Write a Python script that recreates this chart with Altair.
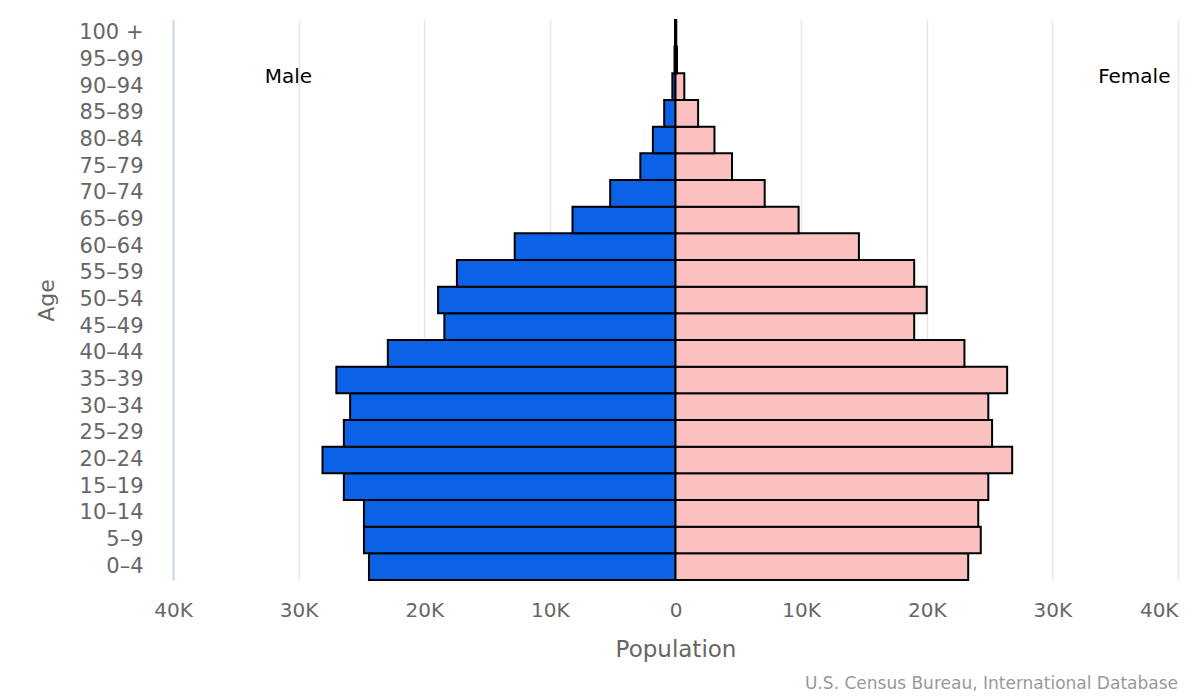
import altair as alt
import pandas as pd

ages = ["0–4", "5–9", "10–14", "15–19", "20–24", "25–29", "30–34", "35–39",
        "40–44", "45–49", "50–54", "55–59", "60–64", "65–69", "70–74",
        "75–79", "80–84", "85–89", "90–94", "95–99", "100 +"]
male = [24400, 24800, 24800, 26400, 28100, 26400, 25900, 27000,
        22900, 18400, 18900, 17400, 12800, 8200, 5200,
        2800, 1800, 900, 250, 80, 40]
female = [23300, 24300, 24100, 24900, 26800, 25200, 24900, 26400,
          23000, 19000, 20000, 19000, 14600, 9800, 7100,
          4500, 3100, 1800, 700, 120, 60]

sexes = ["Male", "Female"]
colors = ["#0b62e6", "#fbc0c0"]
ticks = [-40000, -30000, -20000, -10000, 0, 10000, 20000, 30000, 40000]

rows = []
for a, m, f in zip(ages, male, female):
    rows.append({"age": a, "sex": "Male", "pop": -m})
    rows.append({"age": a, "sex": "Female", "pop": f})
df = pd.DataFrame(rows)

FONT = "DejaVu Sans"
order = list(reversed(ages))

x_scale = alt.Scale(domain=[-40000, 40000], nice=False, zero=False)

bars = alt.Chart(df).mark_bar(stroke="black", strokeWidth=2).encode(
    x=alt.X("pop:Q", scale=x_scale,
            axis=alt.Axis(values=ticks, title="Population", grid=True,
                          gridColor="#e6e6e6", gridWidth=1.5,
                          domain=False, ticks=False, labelFlush=False,
                          labelAlign={"condition": {"test": "datum.value == 40000", "value": "right"},
                                      "value": "center"},
                          labelExpr="datum.value == 0 ? '0' : abs(datum.value)/1000 + 'K'",
                          labelFontSize=20, labelColor="#666666", labelFont=FONT,
                          labelPadding=20, titleFontSize=23, titleColor="#666666",
                          titleFont=FONT, titleFontWeight="normal", titlePadding=18)),
    y=alt.Y("age:N", sort=order,
            scale=alt.Scale(paddingInner=0, paddingOuter=0),
            axis=alt.Axis(title="Age", ticks=False, domain=True,
                          domainColor="#ccd6eb", domainWidth=2,
                          labelFontSize=21, labelColor="#666666", labelFont=FONT,
                          labelPadding=30, titleFontSize=22, titleColor="#666666",
                          titleFont=FONT, titleFontWeight="normal", titlePadding=20)),
    color=alt.Color("sex:N", scale=alt.Scale(domain=sexes, range=colors), legend=None),
)

lab_df = pd.DataFrame({"label": ["Male", "Female"], "x": [-32700, 39400]})
male_lab = alt.Chart(lab_df[lab_df.label == "Male"]).mark_text(
    align="left", baseline="middle", fontSize=20, font=FONT, color="black"
).encode(x=alt.X("x:Q", scale=x_scale), y=alt.value(57), text="label:N")
female_lab = alt.Chart(lab_df[lab_df.label == "Female"]).mark_text(
    align="right", baseline="middle", fontSize=20, font=FONT, color="black"
).encode(x=alt.X("x:Q", scale=x_scale), y=alt.value(57), text="label:N")

src_df = pd.DataFrame({"t": ["U.S. Census Bureau, International Database"]})
source = alt.Chart(src_df).mark_text(
    align="right", baseline="middle", fontSize=17, font=FONT, color="#999999"
).encode(x=alt.value(1005), y=alt.value(664), text="t:N")

chart = alt.layer(bars, male_lab, female_lab, source).properties(
    width=1005, height=560,
    autosize=alt.AutoSizeParams(type="none"),
    padding={"left": 165, "top": 12, "right": 14, "bottom": 118},
).configure_view(stroke=None)

chart.save("out.html", embed_options={"renderer": "svg", "actions": False})
